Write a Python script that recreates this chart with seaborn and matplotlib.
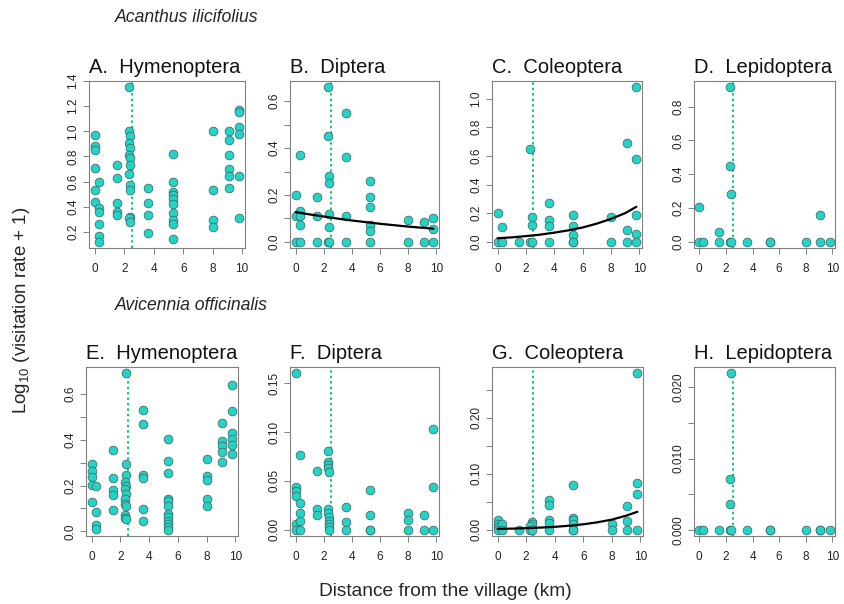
import numpy as np
import pandas as pd
import matplotlib
matplotlib.use('Agg')
import matplotlib.pyplot as plt
import seaborn as sns

# distance of the village edge (dotted line)
village_edge = 2.5

# ---- Acanthus ilicifolius ----
A_x = [0]*6 + [0.3]*6 + [1.5]*5 + [2.3, 2.3, 2.4, 2.3, 2.4, 2.3, 2.4, 2.4, 2.3, 2.4, 2.4, 2.4, 2.3, 2.4] + [3.6]*4 + [5.3]*10 + [8]*4 + [9.1]*6 + [9.8]*6
A_y = [0.97, 0.88, 0.85, 0.71, 0.53, 0.44,
       0.60, 0.39, 0.36, 0.26, 0.17, 0.12,
       0.73, 0.63, 0.43, 0.36, 0.33,
       1.35, 1.00, 0.96, 0.91, 0.87, 0.81, 0.79, 0.73, 0.66, 0.57, 0.53, 0.32, 0.31, 0.28,
       0.55, 0.43, 0.33, 0.19,
       0.82, 0.60, 0.52, 0.49, 0.46, 0.42, 0.35, 0.29, 0.26, 0.14,
       1.00, 0.53, 0.29, 0.24,
       1.00, 0.93, 0.81, 0.70, 0.64, 0.55,
       1.17, 1.15, 1.03, 0.98, 0.64, 0.31]

B_x = [0]*3 + [0.3]*5 + [1.5]*3 + [2.3, 2.3, 2.4, 2.4, 2.4, 2.4, 2.3, 2.4] + [3.6]*4 + [5.3]*6 + [8]*2 + [9.1]*2 + [9.8]*3
B_y = [0.20, 0.11, 0,
       0.37, 0.13, 0.11, 0.07, 0,
       0.19, 0.11, 0,
       0.66, 0.45, 0.28, 0.25, 0.12, 0.064, 0, 0,
       0.55, 0.36, 0.11, 0,
       0.26, 0.19, 0.15, 0.07, 0.047, 0,
       0.092, 0,
       0.085, 0,
       0.10, 0.054, 0]

C_x = [0]*2 + [0.3]*2 + [1.5] + [2.3, 2.4, 2.4, 2.3, 2.4] + [3.6]*4 + [5.3]*5 + [8]*2 + [9.1]*3 + [9.8]*5
C_y = [0.20, 0,
       0.10, 0,
       0,
       0.65, 0.17, 0.12, 0, 0,
       0.27, 0.155, 0.11, 0,
       0.185, 0.11, 0.05, 0, 0,
       0.17, 0,
       0.69, 0.085, 0,
       1.08, 0.58, 0.185, 0.053, 0]

D_x = [0, 0, 0.3, 1.5, 1.5, 2.3, 2.3, 2.4, 2.3, 2.4, 3.6, 5.3, 5.3, 8, 9.1, 9.1, 9.8]
D_y = [0.205, 0, 0, 0.06, 0, 0.915, 0.447, 0.28, 0, 0, 0, 0, 0, 0, 0.157, 0, 0]

# ---- Avicennia officinalis ----
E_x = [0]*5 + [0.3]*4 + [1.5]*5 + [2.4, 2.4, 2.4, 2.3, 2.4, 2.3, 2.4, 2.3, 2.3, 2.4, 2.3, 2.3, 2.4] + [3.6]*6 + [5.3]*12 + [8]*5 + [9.1]*5 + [9.8]*6
E_y = [0.293, 0.264, 0.238, 0.204, 0.126,
       0.20, 0.085, 0.026, 0.012,
       0.355, 0.234, 0.182, 0.158, 0.095,
       0.69, 0.296, 0.244, 0.216, 0.197, 0.187, 0.165, 0.139, 0.121, 0.11, 0.07, 0.058, 0.053,
       0.53, 0.469, 0.245, 0.231, 0.096, 0.044,
       0.403, 0.309, 0.253, 0.143, 0.133, 0.11, 0.077, 0.063, 0.044, 0.031, 0.019, 0.007,
       0.314, 0.241, 0.223, 0.14, 0.111,
       0.472, 0.396, 0.372, 0.345, 0.304,
       0.639, 0.526, 0.431, 0.403, 0.377, 0.336]

F_x = [0]*6 + [0.3]*5 + [1.5]*3 + [2.3, 2.3, 2.3, 2.3, 2.4, 2.3, 2.3, 2.4, 2.4, 2.4, 2.4, 2.4] + [3.6]*3 + [5.3]*4 + [8]*3 + [9.1]*2 + [9.8]*3
F_y = [0.160, 0.044, 0.040, 0.035, 0.0055, 0,
       0.076, 0.027, 0.017, 0.0086, 0,
       0.060, 0.021, 0.015,
       0.081, 0.069, 0.066, 0.063, 0.059, 0.021, 0.0175, 0.013, 0.0086, 0.0055, 0.003, 0,
       0.023, 0.008, 0,
       0.041, 0.015, 0, 0,
       0.0175, 0.0096, 0,
       0.015, 0,
       0.103, 0.044, 0]

G_x = [0]*4 + [0.3]*2 + [1.5] + [2.4, 2.4, 2.3, 2.3, 2.4] + [3.6]*5 + [5.3]*6 + [8]*2 + [9.1]*3 + [9.8]*4
G_y = [0.017, 0.011, 0.005, 0,
       0.0095, 0,
       0,
       0.014, 0.011, 0.006, 0, 0,
       0.053, 0.045, 0.017, 0.012, 0,
       0.079, 0.021, 0.017, 0.0095, 0, 0,
       0.011, 0,
       0.042, 0.015, 0,
       0.279, 0.084, 0.064, 0]

H_x = [0, 0.3, 1.5, 2.4, 2.3, 2.3, 2.3, 2.4, 3.6, 5.3, 5.3, 8, 9.1, 9.1, 9.8]
H_y = [0, 0, 0, 0.022, 0.0071, 0.0036, 0, 0, 0, 0, 0, 0, 0, 0, 0]

# fitted curves
fit_x = [0, 1, 2, 3, 4, 5, 6, 7, 8, 9, 9.8]
fitB_y = [0.127, 0.117, 0.108, 0.099, 0.091, 0.084, 0.077, 0.071, 0.065, 0.060, 0.056]
fitC_y = [0.025, 0.031, 0.040, 0.050, 0.064, 0.080, 0.100, 0.127, 0.160, 0.200, 0.245]
fitG_y = [0.0015, 0.0020, 0.0028, 0.0038, 0.0052, 0.0071, 0.0097, 0.0133, 0.018, 0.025, 0.032]

titles = ['A.  Hymenoptera', 'B.  Diptera', 'C.  Coleoptera', 'D.  Lepidoptera',
          'E.  Hymenoptera', 'F.  Diptera', 'G.  Coleoptera', 'H.  Lepidoptera']

# y ticks and their labels ('' = unlabeled tick)
yticks = {
    'A': ([0.2, 0.4, 0.6, 0.8, 1.0, 1.2, 1.4], ['0.2', '0.4', '0.6', '0.8', '1.0', '1.2', '1.4']),
    'B': ([0.0, 0.1, 0.2, 0.3, 0.4, 0.5, 0.6], ['0.0', '', '0.2', '', '0.4', '', '0.6']),
    'C': ([0.0, 0.2, 0.4, 0.6, 0.8, 1.0], ['0.0', '0.2', '0.4', '0.6', '0.8', '1.0']),
    'D': ([0.0, 0.2, 0.4, 0.6, 0.8], ['0.0', '0.2', '0.4', '0.6', '0.8']),
    'E': ([0.0, 0.1, 0.2, 0.3, 0.4, 0.5, 0.6], ['0.0', '', '0.2', '', '0.4', '', '0.6']),
    'F': ([0.0, 0.05, 0.10, 0.15], ['0.00', '0.05', '0.10', '0.15']),
    'G': ([0.0, 0.05, 0.10, 0.15, 0.20, 0.25], ['0.00', '', '0.10', '', '0.20', '']),
    'H': ([0.0, 0.005, 0.010, 0.015, 0.020], ['0.000', '', '0.010', '', '0.020']),
}
xticks = [0, 2, 4, 6, 8, 10]

panels = {
    'A': (A_x, A_y, None), 'B': (B_x, B_y, fitB_y), 'C': (C_x, C_y, fitC_y), 'D': (D_x, D_y, None),
    'E': (E_x, E_y, None), 'F': (F_x, F_y, None), 'G': (G_x, G_y, fitG_y), 'H': (H_x, H_y, None),
}

sns.set_style('white')
plt.rcParams['font.family'] = ['Liberation Sans', 'DejaVu Sans']
plt.rcParams['mathtext.fontset'] = 'custom'
plt.rcParams['mathtext.rm'] = 'Liberation Sans'
plt.rcParams['mathtext.default'] = 'regular'

W, H = 845, 604
fig = plt.figure(figsize=(W / 100, H / 100), dpi=100)

# pixel boxes (left, top, right, bottom)
boxes = {
    'A': (89, 81, 245, 248), 'B': (290, 81, 439, 248), 'C': (492, 81, 642, 248), 'D': (694, 81, 835, 248),
    'E': (86, 367, 238, 536), 'F': (290, 367, 439, 536), 'G': (492, 367, 643, 536), 'H': (694, 367, 835, 536),
}

fill = '#22d3c6'
edge = '#3f5f5c'
gray = '#808080'

for key, title in zip('ABCDEFGH', titles):
    l, t, r, b = boxes[key]
    ax = fig.add_axes([l / W, 1 - b / H, (r - l) / W, (b - t) / H])
    xs, ys, fit = panels[key]
    ax.axvline(village_edge, color='#00cc73', lw=1.4, ls=(0, (1.2, 1.6)), zorder=1)
    sns.scatterplot(x=xs, y=ys, ax=ax, s=40, color=fill, edgecolor=edge, linewidth=0.5, zorder=3)
    if fit is not None:
        sns.lineplot(x=fit_x, y=fit, ax=ax, color='black', lw=1.6, zorder=4)
    ax.margins(x=0.04, y=0.04)
    ax.set_xticks(xticks)
    ax.set_xticklabels([str(v) for v in xticks])
    tk, tl = yticks[key]
    ax.set_yticks(tk)
    ax.set_yticklabels(tl)
    for lab in ax.get_yticklabels():
        lab.set_rotation(90)
        lab.set_va('center')
    ax.tick_params(axis='both', direction='out', length=4, width=0.7, color=gray,
                   labelsize=8.5, labelcolor='#222222', left=True, bottom=True, pad=3)
    ax.tick_params(axis='x', pad=7)
    for sp in ax.spines.values():
        sp.set_color(gray)
        sp.set_linewidth(0.8)
    ax.set_title(title, loc='left', fontsize=14.5, pad=6, color='#111111')

fig.text(115 / W, 1 - 18 / H, 'Acanthus ilicifolius', fontsize=12.7, style='italic', va='center', ha='left')
fig.text(115 / W, 1 - 305 / H, 'Avicennia officinalis', fontsize=12.7, style='italic', va='center', ha='left')
fig.text(22 / W, 1 - 310 / H, r'Log$_{10}$ (visitation rate + 1)', fontsize=13.5, rotation=90,
         va='center', ha='center')
fig.text(445 / W, 1 - 592 / H, 'Distance from the village (km)', fontsize=13.8, va='center', ha='center')

fig.savefig('out.png', dpi=100)
